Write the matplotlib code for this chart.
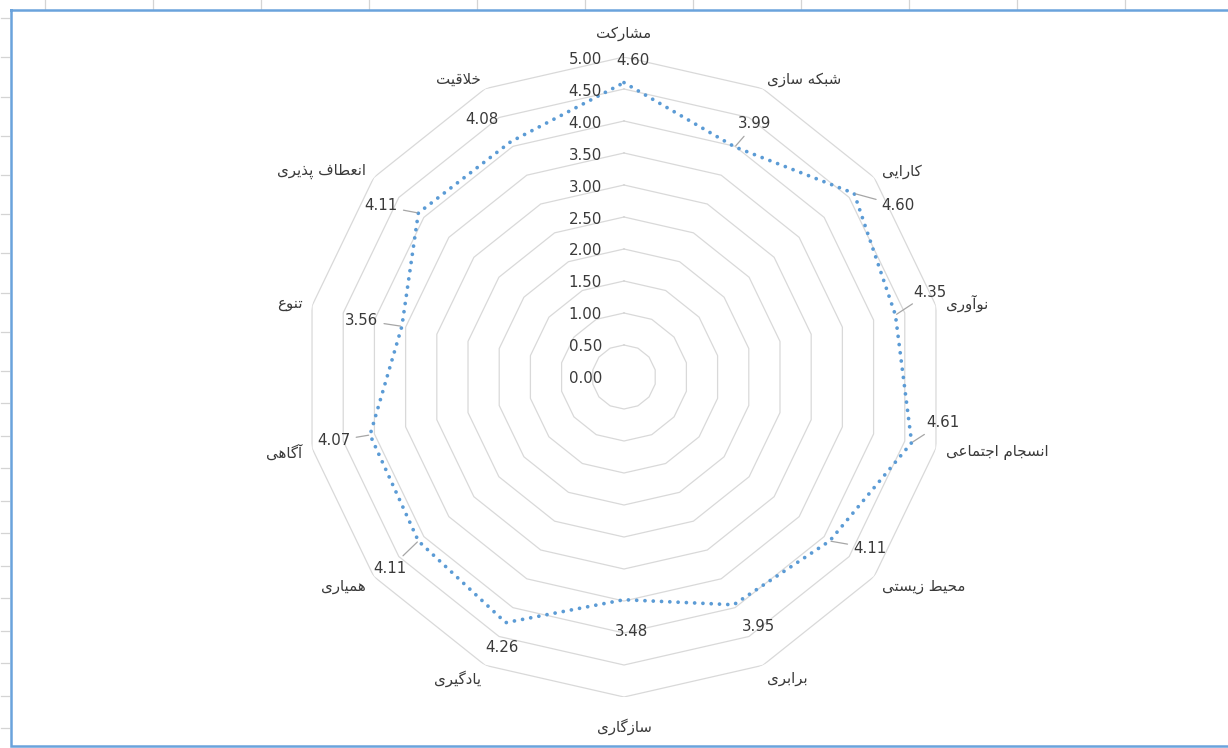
import numpy as np
import matplotlib
matplotlib.use("Agg")
import matplotlib.pyplot as plt
from matplotlib.lines import Line2D

# ---------------- data ----------------
categories = ["مشارکت", "شبکه سازی", "کارایی", "نوآوری", "انسجام اجتماعی",
              "محیط زیستی", "برابری", "سازگاری", "یادگیری", "همیاری",
              "آگاهی", "تنوع", "انعطاف پذیری", "خلاقیت"]
values = [4.60, 3.99, 4.60, 4.35, 4.61, 4.11, 3.95, 3.48, 4.26, 4.11,
          4.07, 3.56, 4.11, 4.08]
r_ticks = [0.0, 0.5, 1.0, 1.5, 2.0, 2.5, 3.0, 3.5, 4.0, 4.5, 5.0]
r_tick_labels = ["0.00", "0.50", "1.00", "1.50", "2.00", "2.50", "3.00",
                 "3.50", "4.00", "4.50", "5.00"]

# ------------- Persian shaping (no shaping engine in matplotlib) -------------
FORMS = {
    '\u0627': ('\uFE8D', '\uFE8E', None, None),
    '\u0622': ('\uFE81', '\uFE82', None, None),
    '\u0628': ('\uFE8F', '\uFE90', '\uFE91', '\uFE92'),
    '\u067E': ('\uFB56', '\uFB57', '\uFB58', '\uFB59'),
    '\u062A': ('\uFE95', '\uFE96', '\uFE97', '\uFE98'),
    '\u062C': ('\uFE9D', '\uFE9E', '\uFE9F', '\uFEA0'),
    '\u062D': ('\uFEA1', '\uFEA2', '\uFEA3', '\uFEA4'),
    '\u062E': ('\uFEA5', '\uFEA6', '\uFEA7', '\uFEA8'),
    '\u062F': ('\uFEA9', '\uFEAA', None, None),
    '\u0630': ('\uFEAB', '\uFEAC', None, None),
    '\u0631': ('\uFEAD', '\uFEAE', None, None),
    '\u0632': ('\uFEAF', '\uFEB0', None, None),
    '\u0698': ('\uFB8A', '\uFB8B', None, None),
    '\u0633': ('\uFEB1', '\uFEB2', '\uFEB3', '\uFEB4'),
    '\u0634': ('\uFEB5', '\uFEB6', '\uFEB7', '\uFEB8'),
    '\u0637': ('\uFEC1', '\uFEC2', '\uFEC3', '\uFEC4'),
    '\u0639': ('\uFEC9', '\uFECA', '\uFECB', '\uFECC'),
    '\u0641': ('\uFED1', '\uFED2', '\uFED3', '\uFED4'),
    '\u0642': ('\uFED5', '\uFED6', '\uFED7', '\uFED8'),
    '\u06A9': ('\uFB8E', '\uFB8F', '\uFB90', '\uFB91'),
    '\u06AF': ('\uFB92', '\uFB93', '\uFB94', '\uFB95'),
    '\u0644': ('\uFEDD', '\uFEDE', '\uFEDF', '\uFEE0'),
    '\u0645': ('\uFEE1', '\uFEE2', '\uFEE3', '\uFEE4'),
    '\u0646': ('\uFEE5', '\uFEE6', '\uFEE7', '\uFEE8'),
    '\u0647': ('\uFEE9', '\uFEEA', '\uFEEB', '\uFEEC'),
    '\u0648': ('\uFEED', '\uFEEE', None, None),
    '\u06CC': ('\uFBFC', '\uFBFD', '\uFBFE', '\uFBFF'),
}
LAM_ALEF = {'\u0627': ('\uFEFB', '\uFEFC'), '\u0622': ('\uFEF5', '\uFEF6')}


def shape_fa(text):
    chars = list(text)
    units = []
    i = 0
    while i < len(chars):
        c = chars[i]
        if c == '\u0644' and i + 1 < len(chars) and chars[i + 1] in LAM_ALEF:
            units.append(('LA', chars[i + 1]))
            i += 2
        else:
            units.append(('C', c))
            i += 1

    def joins_next(u):
        if u[0] == 'LA':
            return False
        f = FORMS.get(u[1])
        return f is not None and f[2] is not None

    def is_letter(u):
        return u[0] == 'LA' or u[1] in FORMS

    out = []
    for k, u in enumerate(units):
        prev_j = k > 0 and joins_next(units[k - 1])
        nxt_ok = k + 1 < len(units) and is_letter(units[k + 1])
        if u[0] == 'LA':
            out.append(LAM_ALEF[u[1]][1 if prev_j else 0])
            continue
        c = u[1]
        f = FORMS.get(c)
        if f is None:
            out.append(c)
            continue
        nj = nxt_ok and f[2] is not None
        if prev_j and nj:
            out.append(f[3])
        elif prev_j:
            out.append(f[1])
        elif nj:
            out.append(f[2])
        else:
            out.append(f[0])
    return ''.join(reversed(out))


# ---------------- figure ----------------
W, H = 1228, 748
fig = plt.figure(figsize=(W / 100, H / 100), dpi=100)
fig.patch.set_facecolor("white")


def fx(px):
    return px / W


def fy(py):
    return (H - py) / H


# spreadsheet grid remnants
for yy in [18, 57, 97, 136, 175, 214, 253, 293, 332, 371, 403, 436, 468,
           501, 533, 566, 598, 631, 663, 696, 728]:
    fig.add_artist(Line2D([fx(1), fx(9)], [fy(yy), fy(yy)], color="#d4d4d4",
                          lw=0.9, transform=fig.transFigure))
for xx in [45, 153, 261, 369, 477, 585, 693, 801, 909, 1017, 1125]:
    fig.add_artist(Line2D([fx(xx), fx(xx)], [fy(0), fy(8.5)], color="#d4d4d4",
                          lw=0.9, transform=fig.transFigure))
# chart-area border (blue selection frame)
bx = [fx(10.5), fx(1240), fx(1240), fx(10.5), fx(10.5)]
by = [fy(9.5), fy(9.5), fy(745.5), fy(745.5), fy(9.5)]
fig.add_artist(Line2D(bx, by, color="#6aa3dc", lw=1.8,
                      transform=fig.transFigure, solid_joinstyle="miter"))

# polar axes: centre (624,377), radius 320px for 5.0
cx, cy, R = 624, 377, 320
ax = fig.add_axes([fx(cx - R), 1 - (cy + R) / H, 2 * R / W, 2 * R / H],
                  projection="polar")
ax.set_theta_zero_location("N")
ax.set_theta_direction(-1)
ax.set_ylim(0, 5)
ax.grid(False)
ax.spines["polar"].set_visible(False)
ax.set_xticks([])
ax.set_yticks([])
ax.patch.set_alpha(0)

n = len(categories)
theta = np.linspace(0, 2 * np.pi, n, endpoint=False)
theta_c = np.concatenate([theta, theta[:1]])

grid_col = "#d9d9d9"
for r in r_ticks[1:]:
    ax.plot(theta_c, [r] * (n + 1), color=grid_col, lw=0.9, zorder=1)

vals_c = list(values) + [values[0]]
ax.plot(theta_c, vals_c, color="#5b9bd5", lw=2.7,
        linestyle=(0, (0.01, 2.2)), dash_capstyle="round", zorder=3)

txt_col = "#3a3a3a"
num_font = "DejaVu Sans"
# radial value labels along the top spoke
for r, lab in zip(r_ticks, r_tick_labels):
    ax.annotate(lab, xy=(0, r), xytext=(-22, -2), textcoords="offset pixels",
                ha="right", va="center", fontsize=10.8, color=txt_col,
                family=num_font)

# category labels
lab_r = 5.0 * 330 / 320
for t, name in zip(theta, categories):
    s = np.sin(t)
    c = np.cos(t)
    if abs(s) < 0.05:
        ha = "center"
        va = "bottom" if c > 0 else "top"
        off = (0, 6 if c > 0 else -11)
    else:
        ha = "left" if s > 0 else "right"
        va = "center"
        off = (0, -4 if c < -0.5 else (-2 if c < 0 else 0))
    ax.annotate(shape_fa(name), xy=(t, lab_r), xytext=off,
                textcoords="offset pixels", ha=ha, va=va, fontsize=10.8,
                color=txt_col, family="DejaVu Sans", annotation_clip=False)

# data labels (offsets in pixels from each point, leader lines where shown)
label_offsets = [(9, -22), (20, -23), (44, 12), (35, -23), (31, -20),
                 (40, 7), (25, 22), (7, 32), (-4, 25), (-28, 27),
                 (-36, 6), (-40, -6), (-37, -7), (-29, -22)]
leaders = [False, True, True, True, True, True, False, False, False, True,
           True, True, True, False]
for t, v, (ox, oy), ld in zip(theta, values, label_offsets, leaders):
    kw = {}
    if ld:
        kw["arrowprops"] = dict(arrowstyle="-", color="#a6a6a6", lw=0.9,
                                shrinkA=2, shrinkB=1)
    ax.annotate(f"{v:.2f}", xy=(t, v), xytext=(ox, -oy),
                textcoords="offset pixels", ha="center", va="center",
                fontsize=10.8, color=txt_col, family=num_font,
                annotation_clip=False, **kw)

fig.savefig("out.png", dpi=100, facecolor="white")
